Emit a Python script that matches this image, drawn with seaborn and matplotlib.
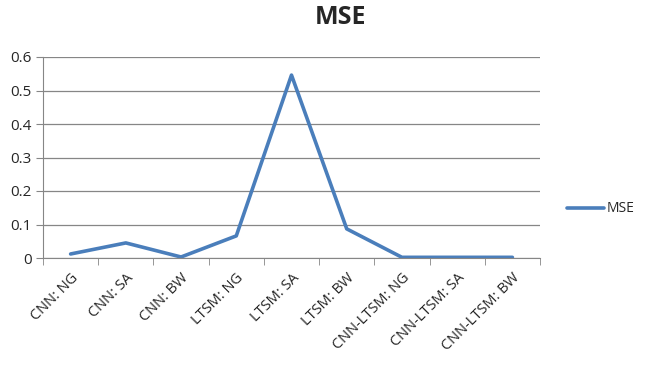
import pandas as pd
import numpy as np
import matplotlib
matplotlib.use("Agg")
import matplotlib.pyplot as plt
import seaborn as sns

# datos
categorias = ["CNN: NG", "CNN: SA", "CNN: BW", "LTSM: NG", "LTSM: SA", "LTSM: BW",
              "CNN-LTSM: NG", "CNN-LTSM: SA", "CNN-LTSM: BW"]
mse = [0.012, 0.045, 0.003, 0.066, 0.546, 0.087, 0.002, 0.002, 0.002]
y_ticks = [0, 0.1, 0.2, 0.3, 0.4, 0.5, 0.6]
y_labels = ["0", "0.1", "0.2", "0.3", "0.4", "0.5", "0.6"]

df = pd.DataFrame({"pos": np.arange(len(categorias)), "MSE": mse})

sns.set_style("white")
plt.rcParams['font.family'] = ['Open Sans', 'DejaVu Sans']

fig = plt.figure(figsize=(6.45, 3.68), dpi=100)
ax = fig.add_axes([43/645, 1-258/368, (540-43)/645, (258-57)/368])

sns.lineplot(data=df, x="pos", y="MSE", ax=ax, color="#4A7EBB", linewidth=2.6,
             label="MSE", legend=False)

ax.set_xlim(-0.5, len(categorias) - 0.5)
ax.set_ylim(0, 0.6)
ax.set_yticks(y_ticks)
ax.set_yticklabels(y_labels, fontsize=11)
ax.set_xticks(df["pos"])
ax.set_xticklabels(categorias, rotation=45, ha="right", rotation_mode="anchor", fontsize=10.5)
ax.set_xticks(np.arange(-0.5, len(categorias)), minor=True)
ax.tick_params(axis="x", which="major", length=0, pad=9)
ax.tick_params(axis="x", which="minor", length=5, color="#868686", direction="out", bottom=True)
ax.tick_params(axis="y", length=5, color="#868686", direction="out", left=True, pad=3)
ax.grid(axis="y", color="#868686", linewidth=0.9)
ax.set_axisbelow(True)
for s in ["top", "right"]:
    ax.spines[s].set_visible(False)
for s in ["left", "bottom"]:
    ax.spines[s].set_color("#868686")
ax.set_xlabel("")
ax.set_ylabel("")

fig.text(340/645, 1-17/368, "MSE", ha="center", va="center", fontsize=18, fontweight="bold")

h = [plt.Line2D([], [], color="#4A7EBB", linewidth=2.6)]
fig.legend(h, ["MSE"], loc="center left", bbox_to_anchor=(561/645, 1-209/368),
           frameon=False, fontsize=10, handlelength=2.7, handletextpad=0.2,
           borderpad=0.4, borderaxespad=0)

fig.savefig("out.png", dpi=100)
